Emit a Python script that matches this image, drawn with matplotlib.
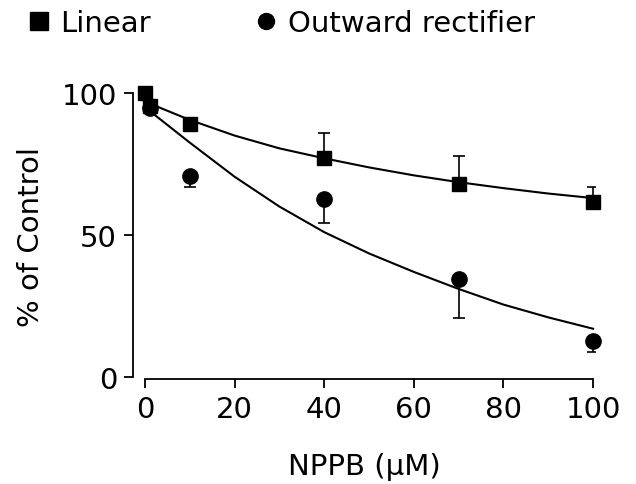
# NPPB dose response: linear vs outward rectifier currents
import numpy as np
import matplotlib
matplotlib.use("Agg")
import matplotlib.pyplot as plt

plt.rcParams["font.family"] = ["DejaVu Sans"]

# Measured points (% of control)
lin_x = [0, 1, 10, 40, 70, 100]
lin_y = [100, 95.5, 89, 77, 68, 61.7]
lin_err_x = [40, 70, 100]
lin_err_y = [77, 68, 61.7]
lin_err_up = [8.8, 9.8, 5.3]

out_x = [1, 10, 40, 70, 100]
out_y = [94.6, 70.9, 62.7, 34.5, 12.8]
out_err_x = [10, 40, 70, 100]
out_err_y = [70.9, 62.7, 34.5, 12.8]
out_err_dn = [4.1, 8.5, 13.7, 4.1]

# Fitted curves
fit_x = [1, 10, 20, 30, 40, 50, 60, 70, 80, 90, 100]
lin_fit = [96.3, 90.5, 85, 80.5, 77, 73.8, 71, 68.6, 66.5, 64.6, 63]
out_fit = [93.7, 82.5, 70.5, 60, 51, 43.5, 37, 31, 25.5, 21, 17]

fig = plt.figure(figsize=(6.36, 4.85), dpi=100)
ax = fig.add_axes([0.2091, 0.2165, 0.7269, 0.5897])

ax.plot(fit_x, lin_fit, color="black", lw=1.5, zorder=2)
ax.plot(fit_x, out_fit, color="black", lw=1.5, zorder=2)

ax.errorbar(lin_err_x, lin_err_y, yerr=[np.zeros(len(lin_err_up)), lin_err_up],
            fmt="none", ecolor="black", elinewidth=1.2, capsize=4.5, capthick=1.2, zorder=1)
ax.errorbar(out_err_x, out_err_y, yerr=[out_err_dn, np.zeros(len(out_err_dn))],
            fmt="none", ecolor="black", elinewidth=1.2, capsize=4.5, capthick=1.2, zorder=1)

sq, = ax.plot(lin_x, lin_y, ls="none", marker="s", ms=10, color="black",
              label="Linear", zorder=3, clip_on=False)
ci, = ax.plot(out_x, out_y, ls="none", marker="o", ms=11, color="black",
              label="Outward rectifier", zorder=3, clip_on=False)

ax.set_xlim(-2.7, 100.5)
ax.set_ylim(-0.7, 100)
ax.set_xticks([0, 20, 40, 60, 80, 100])
ax.set_yticks([0, 50, 100])

for s in ["top", "right"]:
    ax.spines[s].set_visible(False)
ax.spines["bottom"].set_bounds(0, 100)
ax.spines["left"].set_bounds(0, 100)
ax.spines["bottom"].set_linewidth(1.3)
ax.spines["left"].set_linewidth(1.3)
ax.tick_params(axis="both", direction="out", length=6.5, width=1.3,
               labelsize=21, pad=5)

ax.set_xlabel("NPPB (µM)", fontsize=21, labelpad=21)
ax.set_ylabel("% of Control", fontsize=21, labelpad=12)

leg = fig.legend(handles=[sq, ci], loc="upper left", bbox_to_anchor=(0.001, 1.033),
                 ncol=2, frameon=False, fontsize=21,
                 handlelength=0.8, handletextpad=0.35, columnspacing=3.55)
# legend symbols are a bit bigger than the plotted ones
leg.legend_handles[0].set_markersize(13)
leg.legend_handles[1].set_markersize(11.5)

fig.savefig("out.png", dpi=100)
